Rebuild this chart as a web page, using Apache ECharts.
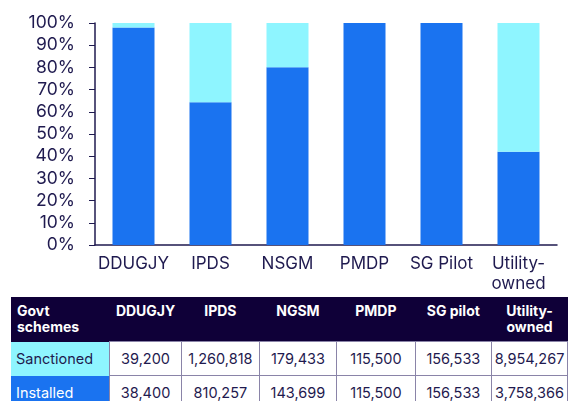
<!DOCTYPE html>
<html>
<head>
<meta charset="utf-8">
<script src="https://cdn.jsdelivr.net/npm/echarts@6/dist/echarts.min.js"></script>
<style>
  html, body { margin: 0; padding: 0; background: #fff; }
  #chart { position: absolute; left: 0; top: 0; width: 568px; height: 296px; }
  #tbl { position: absolute; left: 11px; top: 297px; border-collapse: collapse; font-family: Inter, sans-serif; color: #1f1a4f; }
  #tbl th { background: #0f0038; color: #fff; font-weight: bold; font-size: 14px; line-height: 16px; vertical-align: top; padding: 6px 4px 0 4px; height: 38px; text-align: center; }
  #tbl th.first { text-align: left; padding-left: 6px; }
  #tbl td { font-size: 14.5px; height: 33px; padding: 0; text-align: center; border: 1.5px solid #8a84a8; }
  #tbl td.lab { text-align: left; padding-left: 5px; border: none; }
  #tbl td.sanc { background: #8ef5ff; }
  #tbl td.inst { background: #1a73f0; color: #fff; }
</style>
</head>
<body>
<div id="chart"></div>
<table id="tbl"></table>
<script>
const categories = ['DDUGJY', 'IPDS', 'NSGM', 'PMDP', 'SG Pilot', 'Utility-\nowned'];
const tableHeads = ['Govt\nschemes', 'DDUGJY', 'IPDS', 'NGSM', 'PMDP', 'SG pilot', 'Utility-\nowned'];
const sanctioned = [39200, 1260818, 179433, 115500, 156533, 8954267];
const installed = [38400, 810257, 143699, 115500, 156533, 3758366];
const colWidths = [97, 72, 78, 78, 79, 77, 76];

const installedPct = installed.map((v, i) => v / sanctioned[i] * 100);
const remainingPct = installedPct.map(v => 100 - v);

const chart = echarts.init(document.getElementById('chart'));
const option = {
  animation: false,
  grid: { left: 95, right: 11, top: 23, bottom: 51, outerBoundsMode: 'none', containLabel: false },
  xAxis: {
    type: 'category',
    data: categories,
    axisLine: { lineStyle: { color: '#1f1a4f', width: 1.5 } },
    axisTick: { show: false },
    axisLabel: { color: '#1f1a4f', fontSize: 17, fontFamily: 'Inter', margin: 9, lineHeight: 20, interval: 0 }
  },
  yAxis: {
    type: 'value',
    min: 0, max: 100, interval: 10,
    splitLine: { show: false },
    axisLine: { show: true, lineStyle: { color: '#1f1a4f', width: 1.5 } },
    axisTick: { show: true, length: 6, lineStyle: { color: '#1f1a4f' } },
    axisLabel: { color: '#1f1a4f', fontSize: 17.5, fontFamily: 'Inter', margin: 20, formatter: '{value}%' }
  },
  series: [
    { name: 'Installed', type: 'bar', stack: 's', barWidth: 42, data: installedPct, itemStyle: { color: '#1a73f0' } },
    { name: 'Pending', type: 'bar', stack: 's', barWidth: 42, data: remainingPct, itemStyle: { color: '#8ef5ff' } }
  ]
};
chart.setOption(option);

// table below the chart
const fmt = n => n.toLocaleString('en-US');
const tbl = document.getElementById('tbl');
let html = '<tr>';
tableHeads.forEach((h, i) => {
  html += '<th class="' + (i === 0 ? 'first' : '') + '" style="width:' + (colWidths[i] - 8) + 'px">' + h.replace('\n', '<br>') + '</th>';
});
html += '</tr><tr><td class="lab sanc">Sanctioned</td>';
sanctioned.forEach(v => { html += '<td>' + fmt(v) + '</td>'; });
html += '</tr><tr><td class="lab inst">Installed</td>';
installed.forEach(v => { html += '<td>' + fmt(v) + '</td>'; });
html += '</tr>';
tbl.innerHTML = html;
</script>
</body>
</html>
